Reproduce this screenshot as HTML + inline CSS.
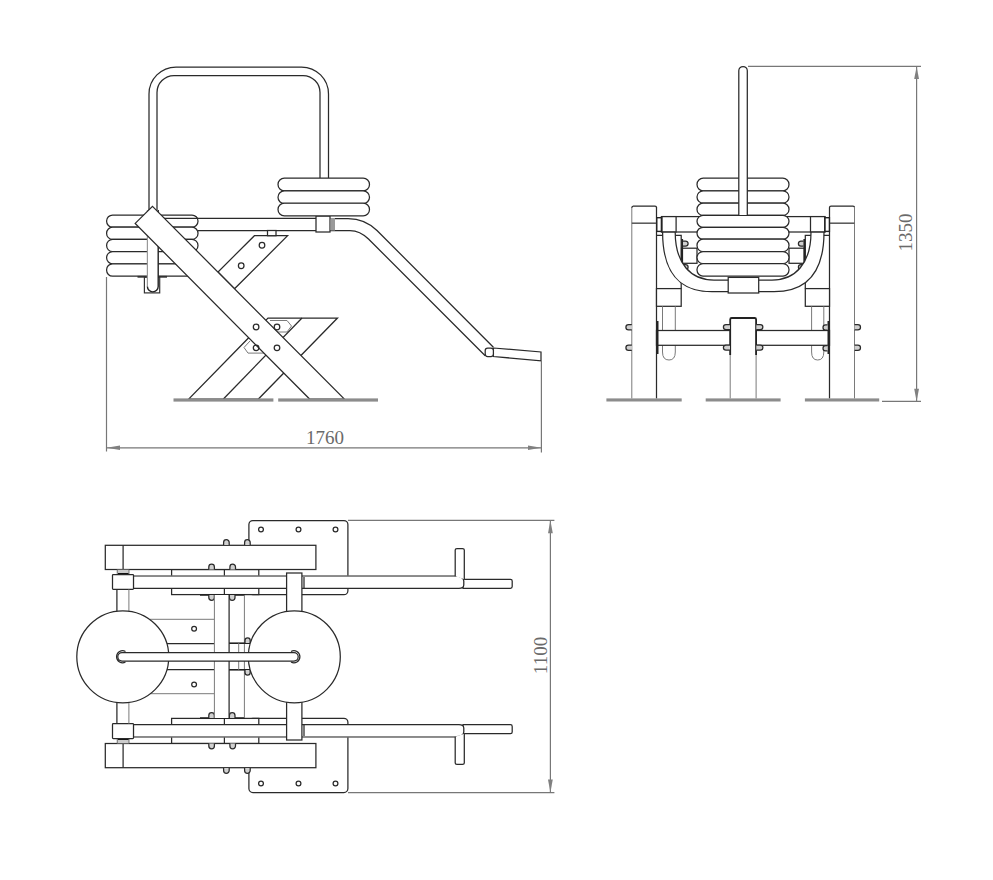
<!DOCTYPE html>
<html><head><meta charset="utf-8"><title>Drawing</title>
<style>
html,body{margin:0;padding:0;background:#fff;}
body{width:993px;height:880px;overflow:hidden;}
svg{display:block;}
.k{fill:none;stroke:#2a2a2a;stroke-width:1.25;}
.bolt{fill:#d0d0d0;}
.kw{fill:#fff;stroke:#2a2a2a;stroke-width:1.25;}
.g{fill:none;stroke:#7a7a7a;stroke-width:1;}
.gw{fill:#fff;stroke:#7a7a7a;stroke-width:1;}
.d{fill:none;stroke:#777;stroke-width:1.2;}
.base{fill:#8c8c8c;}
.ar{fill:#808080;}
.t{font-family:"Liberation Serif",serif;font-size:19px;fill:#6a6a6a;}
</style></head>
<body>
<svg width="993" height="880" viewBox="0 0 993 880">
<rect width="993" height="880" fill="#fff"/>

<!-- ================= SIDE VIEW ================= -->
<g id="side">
  <!-- handle loop -->
  <path class="k" d="M149,214 L149,94 A27,27 0 0 1 176,67 L301.5,67 A27,27 0 0 1 328.5,94 L328.5,178"/>
  <path class="k" d="M157,214 L157,92.5 A17,17 0 0 1 174,75.5 L303,75.5 A17,17 0 0 1 320,92.5 L320,178"/>

  <!-- seat bar + bent tube -->
  <path class="k" d="M164,218.3 L316,218.3 M330,218.5 L348,218.5 Q365,218.5 377,230.5 L493.4,347.2"/>
  <path class="k" d="M198,230.5 L316,230.5 M330,230.5 L350,230.5 Q360,230.5 368.5,239 L485.2,355.7"/>
  <!-- foot bar -->
  <path class="kw" d="M493.4,348 L541,352 L541,360.8 L493.4,356.5 Z"/>
  <rect class="kw" x="485.2" y="348" width="8.2" height="8.5" rx="2.5"/>
  <!-- collar -->
  <rect class="kw" x="316" y="216" width="14" height="16"/>
  <rect x="330.5" y="218" width="4.5" height="12.5" fill="#9a9a9a"/>

  <!-- right plates -->
  <rect class="kw" x="278" y="178.2" width="91.5" height="12.7" rx="6.3"/>
  <rect class="kw" x="278" y="190.9" width="91.5" height="12.7" rx="6.3"/>
  <rect class="kw" x="278" y="203.2" width="91.5" height="12.7" rx="6.3"/>

  <!-- left plates -->
  <rect class="kw" x="106.6" y="215" width="91.4" height="12.2" rx="6"/>
  <rect class="kw" x="106.6" y="227.2" width="91.4" height="12.2" rx="6"/>
  <rect class="kw" x="106.6" y="239.4" width="91.4" height="12.2" rx="6"/>
  <rect class="kw" x="106.6" y="251.6" width="91.4" height="12.2" rx="6"/>
  <rect class="kw" x="106.6" y="263.8" width="91.4" height="12.4" rx="6"/>
  <line x1="137.5" y1="276.8" x2="167" y2="276.8" stroke="#333" stroke-width="1.8"/>
  <!-- seat bar in front of plates right part -->
  <path class="k" d="M164,218.3 L198,218.3"/>

  <!-- vertical post -->
  <rect x="144.4" y="277.3" width="15.3" height="15.6" fill="#fff" stroke="#333" stroke-width="1.2"/>
  <path d="M147.4,210 L147.4,286.5 A5.4,5.4 0 0 0 158.2,286.5 L158.2,210 Z" fill="#fff" stroke="none"/>
  <path d="M147.4,210 L147.4,286.5" stroke="#999" stroke-width="1.2" fill="none"/>
  <path d="M147.4,286.5 A5.4,5.4 0 0 0 158.2,286.5 L158.2,210" stroke="#222" stroke-width="1.4" fill="none"/>

  <!-- upper bracket -->
  <path class="kw" d="M254.4,235.7 L287.6,235.7 L234.5,288.8 L218,272 Z"/>
  <rect class="kw" x="267.5" y="230.5" width="8.5" height="5.2"/>
  <circle class="k" cx="262" cy="245.2" r="2.8"/>
  <circle class="k" cx="241.2" cy="265.7" r="2.8"/>

  <!-- lower X leg (wide, down-left) -->
  <path class="kw" d="M268,318 L337.5,318 L258.4,399 L188.7,399 Z"/>
  <line class="k" x1="302" y1="318" x2="223.4" y2="399"/>
  <!-- brackets -->
  <path class="g" d="M270,320.5 L287,320.5 L291.5,326 L287,332 L274,332"/>
  <path class="g" d="M250,341 L244,347.5 L248,353.1 L263.9,353.1"/>

  <!-- big diagonal bar -->
  <path class="kw" d="M152.5,206.4 L344.4,399 L309.6,399 L135.2,223.4 Z"/>
  <circle class="k" cx="256.1" cy="327" r="2.8"/>
  <circle class="k" cx="277" cy="327" r="2.8"/>
  <circle class="k" cx="256.1" cy="347.8" r="2.8"/>
  <circle class="k" cx="277" cy="347.8" r="2.8"/>

  <!-- base plates -->
  <rect class="base" x="173.5" y="398.4" width="99.9" height="3.2"/>
  <rect class="base" x="278.2" y="398.4" width="99.8" height="3.2"/>

  <!-- dimension 1760 -->
  <line class="d" x1="106.5" y1="277" x2="106.5" y2="451.5"/>
  <line class="d" x1="541.4" y1="361" x2="541.4" y2="452.6"/>
  <line class="d" x1="106.5" y1="447.8" x2="541.4" y2="447.8"/>
  <path class="ar" d="M106.5,447.8 L120,445.6 L120,450 Z"/>
  <path class="ar" d="M541.4,447.8 L528,445.6 L528,450 Z"/>
  <text class="t" x="324.9" y="443.8" text-anchor="middle">1760</text>
</g>

<!-- ================= FRONT VIEW ================= -->
<g id="front">
  <!-- posts -->
  <path class="g" d="M631.8,398.5 L631.8,208" stroke-width="1.3"/>
  <path class="k" d="M631.8,208 Q631.8,206 633.3,206 L655,206 Q656.5,206 656.5,207.5" stroke-width="1.3"/>
  <line class="k" x1="656.5" y1="207" x2="656.5" y2="398.5" stroke-width="1.4"/>
  <line x1="631.8" y1="223.2" x2="656.5" y2="223.2" stroke="#555" stroke-width="1.5"/>
  <path class="k" d="M829.5,398.5 L829.5,207.5 Q829.5,206 831,206 L853,206 Q854.5,206 854.5,207.5" stroke-width="1.3"/>
  <line class="g" x1="854.5" y1="207" x2="854.5" y2="398.5" stroke-width="1.3"/>
  <line x1="829.5" y1="223.2" x2="854.5" y2="223.2" stroke="#555" stroke-width="1.5"/>
  <!-- inner frames behind U -->
  <path class="k" d="M656.5,235.3 L681.2,235.3 L681.2,288.6 M805.3,288.6 L805.3,235.3 L829.5,235.3"/>
  <!-- lower boxes -->
  <rect class="kw" x="656.5" y="288.6" width="24.7" height="17.7"/>
  <rect class="kw" x="805.3" y="288.6" width="24.2" height="17.7"/>
  <!-- vertical tubes below boxes -->
  <path class="g" d="M662.5,306.3 L662.5,352 Q662.5,360 669,360 Q675.3,360 675.3,352 L675.3,306.3"/>
  <path class="g" d="M811.6,306.3 L811.6,352 Q811.6,360 817.7,360 Q823.8,360 823.8,352 L823.8,306.3"/>
  <!-- lower cross bar -->
  <rect class="kw" x="656.5" y="330.5" width="173" height="14.8"/>
  <line x1="657.6" y1="321" x2="657.6" y2="354" stroke="#222" stroke-width="1.8"/>
  <line x1="828.4" y1="321" x2="828.4" y2="354" stroke="#222" stroke-width="1.8"/>
  <!-- center post -->
  <rect x="730.2" y="318" width="25.9" height="80.5" fill="#fff"/>
  <path class="g" d="M730.2,398.5 L730.2,330 M756.1,398.5 L756.1,330" stroke-width="1.3"/>
  <path d="M730.2,355 L730.2,319.5 Q730.2,318 731.7,318 L754.6,318 Q756.1,318 756.1,319.5 L756.1,355" stroke="#222" stroke-width="1.8" fill="none"/>
  <!-- bolts -->
  <g class="k" style="fill:#d0d0d0">
    <path d="M730,324.5 L726,324.5 A2.6,2.6 0 0 0 726,329.7 L730,329.7"/>
    <path d="M730,345 L726,345 A2.6,2.6 0 0 0 726,350.2 L730,350.2"/>
    <path d="M756.3,324.5 L760.3,324.5 A2.6,2.6 0 0 1 760.3,329.7 L756.3,329.7"/>
    <path d="M756.3,345 L760.3,345 A2.6,2.6 0 0 1 760.3,350.2 L756.3,350.2"/>
    <path d="M631.8,324.7 L628.5,324.7 A2.6,2.6 0 0 0 628.5,329.9 L631.8,329.9"/>
    <path d="M631.8,345.2 L628.5,345.2 A2.6,2.6 0 0 0 628.5,350.4 L631.8,350.4"/>
    <path d="M854.6,324.7 L857.9,324.7 A2.6,2.6 0 0 1 857.9,329.9 L854.6,329.9"/>
    <path d="M854.6,345.2 L857.9,345.2 A2.6,2.6 0 0 1 857.9,350.4 L854.6,350.4"/>
    <path d="M827.5,324.8 L825.6,324.8 A2.6,2.6 0 0 0 825.6,330 L827.5,330"/>
    <path d="M827.5,345.6 L825.6,345.6 A2.6,2.6 0 0 0 825.6,350.8 L827.5,350.8"/>
  </g>

  <!-- brackets at sides of plates -->
  <rect class="kw" x="681.5" y="248.2" width="15.5" height="15.1"/>
  <line x1="682.2" y1="239" x2="682.2" y2="263.3" stroke="#222" stroke-width="1.8"/>
  <rect class="kw" x="789" y="248.2" width="15.5" height="15.1"/>
  <g class="k" style="fill:#d0d0d0">
    <path d="M683,241 L685.5,241 A2.6,2.6 0 0 1 685.5,246.2 L683,246.2"/>
    <path d="M683,264.5 L685.5,264.5 A2.6,2.6 0 0 1 685.5,269.7 L683,269.7"/>
    <path d="M803.5,241 L801,241 A2.6,2.6 0 0 0 801,246.2 L803.5,246.2"/>
    <path d="M803.5,264.5 L801,264.5 A2.6,2.6 0 0 0 801,269.7 L803.5,269.7"/>
  </g>
  <line x1="804.3" y1="239" x2="804.3" y2="263.3" stroke="#222" stroke-width="1.8"/>

  <!-- horizontal top bar -->
  <rect class="kw" x="661.4" y="216.6" width="163.6" height="15.4"/>
  <!-- collars -->
  <rect class="kw" x="662" y="216.6" width="14.1" height="15.4"/>
  <rect class="kw" x="810.5" y="216.6" width="14.2" height="15.4"/>
  <rect x="656.8" y="217.7" width="4.6" height="13.7" fill="#fff" stroke="#222" stroke-width="1.4"/>
  <rect x="825" y="217.7" width="4.4" height="13.7" fill="#fff" stroke="#222" stroke-width="1.4"/>

  <!-- U tube -->
  <path class="kw" d="M662.6,232 C662.6,274 680,291.7 712,291.7 L774,291.7 C806,291.7 824,274 824,232 L811,232 C811,264 795,280 772,280 L714,280 C691,280 675.2,264 675.2,232 Z"/>

  <!-- plates -->
  <rect class="kw" x="697" y="178.2" width="92" height="12.6" rx="6.2"/>
  <rect class="kw" x="697" y="190.8" width="92" height="12.4" rx="6.2"/>
  <rect class="kw" x="697" y="203.2" width="92" height="12.2" rx="6"/>
  <rect class="kw" x="697" y="215.4" width="92" height="11.9" rx="6"/>
  <rect class="kw" x="697" y="227.3" width="92" height="11.9" rx="6"/>
  <rect class="kw" x="697" y="239.2" width="92" height="12.4" rx="6"/>
  <rect class="kw" x="697" y="251.6" width="92" height="12" rx="6"/>
  <rect class="kw" x="697" y="263.6" width="92" height="12.4" rx="6"/>
  <!-- bottom collar -->
  <rect class="kw" x="728.2" y="277.4" width="30.5" height="15.6"/>
  <!-- handle -->
  <path class="kw" d="M738.8,215 L738.8,70.8 A4.25,4.25 0 0 1 747.3,70.8 L747.3,215"/>

  <!-- base plates -->
  <rect class="base" x="606.4" y="398.4" width="75.3" height="3.1"/>
  <rect class="base" x="705.7" y="398.4" width="74.9" height="3.1"/>
  <rect class="base" x="804.9" y="398.4" width="74.3" height="3.1"/>

  <!-- dimension 1350 -->
  <line class="d" x1="748" y1="66.4" x2="921" y2="66.4"/>
  <line class="d" x1="882" y1="401.3" x2="921" y2="401.3"/>
  <line class="d" x1="916.6" y1="66.4" x2="916.6" y2="401.3"/>
  <path class="ar" d="M916.6,66.4 L914.2,79 L919,79 Z"/>
  <path class="ar" d="M916.6,401.3 L914.2,388.7 L919,388.7 Z"/>
  <text class="t" transform="translate(911.6,232.5) rotate(-90)" text-anchor="middle">1350</text>
</g>

<!-- ================= TOP VIEW ================= -->
<g id="top">
  <g id="tophalf">
    <!-- base plate -->
    <rect class="kw" x="248.9" y="520.5" width="99" height="74.2" rx="4"/>
    <circle class="k" cx="261" cy="529.6" r="2.4"/>
    <circle class="k" cx="298.5" cy="529.6" r="2.4"/>
    <circle class="k" cx="335.5" cy="529.6" r="2.4"/>
    <!-- rect behind tube -->
    <rect class="kw" x="171.6" y="569.5" width="87.2" height="25.1"/>
    <line class="k" x1="224.4" y1="569.5" x2="224.4" y2="594.6"/>
    <line x1="200" y1="594.8" x2="245" y2="594.8" stroke="#222" stroke-width="1.8"/>
    <!-- seat -->
    <rect class="kw" x="105.3" y="545.3" width="210.6" height="24.2"/>
    <line class="k" x1="123.1" y1="545.3" x2="123.1" y2="569.5"/>
    <!-- bolts above/below seat -->
    <g class="k" style="fill:#d0d0d0">
      <path d="M223.6,545 L223.6,542.5 A2.8,2.8 0 0 1 229.2,542.5 L229.2,545"/>
      <path d="M244.6,545 L244.6,542.5 A2.8,2.8 0 0 1 250.2,542.5 L250.2,545"/>
      <path d="M208.8,569.5 L208.8,567 A2.8,2.8 0 0 1 214.4,567 L214.4,569.5"/>
      <path d="M229.9,569.5 L229.9,567 A2.8,2.8 0 0 1 235.5,567 L235.5,569.5"/>
      <path d="M208.8,595 L208.8,597.5 A2.8,2.8 0 0 0 214.4,597.5 L214.4,595"/>
      <path d="M229.4,595 L229.4,597.5 A2.8,2.8 0 0 0 235,597.5 L235,595"/>
    </g>
    <!-- arm tube -->
    <path class="kw" d="M463,579.3 L510.5,579.3 Q512.2,579.3 512.2,581 L512.2,586.6 Q512.2,588.3 510.5,588.3 L463,588.3 Z"/>
    <path class="kw" d="M133.4,576.2 L455.2,576.2 Q463.6,576.5 463.8,581 L463.8,585 Q463.6,588.3 459,588.4 L133.4,588.4 Z"/>
    <line x1="133.4" y1="576.2" x2="455" y2="576.2" stroke="#8a8a8a" stroke-width="1.6"/>
    <path class="kw" d="M455.2,576.2 L455.2,550 Q455.2,548.6 457,548.6 L462.5,548.6 Q464.3,548.6 464.3,550 L464.3,579.3"/>
    <!-- collar -->
    <rect x="117.2" y="569.5" width="11.8" height="5" fill="#ccc" stroke="#555" stroke-width="0.8"/>
    <line x1="118" y1="573.8" x2="128.5" y2="573.8" stroke="#111" stroke-width="1.6"/>
    <rect class="kw" x="112.5" y="574.5" width="21" height="14.8" rx="0.8" stroke-width="1.6"/>
    <!-- vertical tube collar to disc -->
    <line class="k" x1="116.9" y1="589.3" x2="116.9" y2="612"/>
    <line class="g" x1="128.9" y1="589.3" x2="128.9" y2="612"/>
    <!-- clamp post on right disc -->
    <rect class="kw" x="286.6" y="573" width="15.3" height="39"/>
    <line class="k" x1="304" y1="577" x2="304" y2="588"/>
  </g>
  <g transform="matrix(1,0,0,-1,0,1313)">
    <!-- base plate -->
    <rect class="kw" x="248.9" y="520.5" width="99" height="74.2" rx="4"/>
    <circle class="k" cx="261" cy="529.6" r="2.4"/>
    <circle class="k" cx="298.5" cy="529.6" r="2.4"/>
    <circle class="k" cx="335.5" cy="529.6" r="2.4"/>
    <!-- rect behind tube -->
    <rect class="kw" x="171.6" y="569.5" width="87.2" height="25.1"/>
    <line class="k" x1="224.4" y1="569.5" x2="224.4" y2="594.6"/>
    <line x1="200" y1="594.8" x2="245" y2="594.8" stroke="#222" stroke-width="1.8"/>
    <!-- seat -->
    <rect class="kw" x="105.3" y="545.3" width="210.6" height="24.2"/>
    <line class="k" x1="123.1" y1="545.3" x2="123.1" y2="569.5"/>
    <!-- bolts above/below seat -->
    <g class="k" style="fill:#d0d0d0">
      <path d="M223.6,545 L223.6,542.5 A2.8,2.8 0 0 1 229.2,542.5 L229.2,545"/>
      <path d="M244.6,545 L244.6,542.5 A2.8,2.8 0 0 1 250.2,542.5 L250.2,545"/>
      <path d="M208.8,569.5 L208.8,567 A2.8,2.8 0 0 1 214.4,567 L214.4,569.5"/>
      <path d="M229.9,569.5 L229.9,567 A2.8,2.8 0 0 1 235.5,567 L235.5,569.5"/>
      <path d="M208.8,595 L208.8,597.5 A2.8,2.8 0 0 0 214.4,597.5 L214.4,595"/>
      <path d="M229.4,595 L229.4,597.5 A2.8,2.8 0 0 0 235,597.5 L235,595"/>
    </g>
    <!-- arm tube -->
    <path class="kw" d="M463,579.3 L510.5,579.3 Q512.2,579.3 512.2,581 L512.2,586.6 Q512.2,588.3 510.5,588.3 L463,588.3 Z"/>
    <path class="kw" d="M133.4,576.2 L455.2,576.2 Q463.6,576.5 463.8,581 L463.8,585 Q463.6,588.3 459,588.4 L133.4,588.4 Z"/>
    <line x1="133.4" y1="576.2" x2="455" y2="576.2" stroke="#8a8a8a" stroke-width="1.6"/>
    <path class="kw" d="M455.2,576.2 L455.2,550 Q455.2,548.6 457,548.6 L462.5,548.6 Q464.3,548.6 464.3,550 L464.3,579.3"/>
    <!-- collar -->
    <rect x="117.2" y="569.5" width="11.8" height="5" fill="#ccc" stroke="#555" stroke-width="0.8"/>
    <line x1="118" y1="573.8" x2="128.5" y2="573.8" stroke="#111" stroke-width="1.6"/>
    <rect class="kw" x="112.5" y="574.5" width="21" height="14.8" rx="0.8" stroke-width="1.6"/>
    <!-- vertical tube collar to disc -->
    <line class="k" x1="116.9" y1="589.3" x2="116.9" y2="612"/>
    <line class="g" x1="128.9" y1="589.3" x2="128.9" y2="612"/>
    <!-- clamp post on right disc -->
    <rect class="kw" x="286.6" y="573" width="15.3" height="39"/>
    <line class="k" x1="304" y1="577" x2="304" y2="588"/>
  </g>

  <!-- central region: lines behind discs -->
  <g>
    <line class="g" x1="150" y1="619.3" x2="214.4" y2="619.3"/>
    <line class="g" x1="150" y1="693.7" x2="214.4" y2="693.7"/>
    <line class="k" x1="160" y1="643.5" x2="214.4" y2="643.5"/>
    <line class="k" x1="160" y1="669.5" x2="214.4" y2="669.5"/>
    <circle class="k" cx="194.1" cy="628.7" r="2.4"/>
    <circle class="k" cx="194.1" cy="684.5" r="2.4"/>
    <!-- vertical bar -->
    <rect x="214.4" y="595" width="14.7" height="123" fill="#fff"/>
    <line class="g" x1="214.4" y1="595" x2="214.4" y2="718" stroke-width="1.3"/>
    <line class="k" x1="229.1" y1="595" x2="229.1" y2="718" stroke-width="1.4"/>
    <line class="g" x1="244.4" y1="595" x2="244.4" y2="718"/>
    <line x1="229.1" y1="643.2" x2="250" y2="643.2" stroke="#222" stroke-width="1.6"/>
    <line x1="229.1" y1="669.8" x2="250" y2="669.8" stroke="#222" stroke-width="1.6"/>
    <line class="g" x1="238.7" y1="643.2" x2="238.7" y2="669.8"/>
    <g class="k" style="fill:#d0d0d0">
      <path d="M245,643 L245,640.5 A2.6,2.6 0 0 1 250.2,640.5 L250.2,643"/>
      <path d="M245,670 L245,672.5 A2.6,2.6 0 0 0 250.2,672.5 L250.2,670"/>
    </g>
  </g>
  <!-- discs -->
  <circle class="kw" cx="122.8" cy="656.8" r="46"/>
  <circle class="kw" cx="294.3" cy="656.8" r="46"/>
  <!-- central bar -->
  <path class="kw" d="M122,652.6 L294,652.6 A4.2,4.2 0 0 1 294,661 L122,661 A4.2,4.2 0 0 1 122,652.6 Z"/>
  <path class="k" d="M125.5,651.5 A6,6 0 1 0 125.5,662" stroke-width="1.4"/>
  <path class="k" d="M291,651.5 A6,6 0 1 1 291,662" stroke-width="1.4"/>

  <!-- dimension 1100 -->
  <line class="d" x1="348" y1="520.3" x2="554.4" y2="520.3"/>
  <line class="d" x1="348" y1="792.6" x2="554.4" y2="792.6"/>
  <line class="d" x1="550.4" y1="520.3" x2="550.4" y2="792.6"/>
  <path class="ar" d="M550.4,520.3 L548,533.3 L552.8,533.3 Z"/>
  <path class="ar" d="M550.4,792.6 L548,779.6 L552.8,779.6 Z"/>
  <text class="t" transform="translate(546.8,655.5) rotate(-90)" text-anchor="middle">1100</text>
</g>

</svg>
</body></html>
